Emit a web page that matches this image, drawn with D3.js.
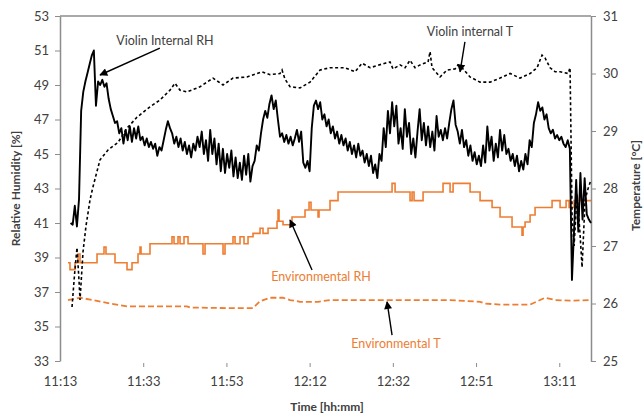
<!DOCTYPE html>
<html><head><meta charset="utf-8">
<script src="https://cdn.jsdelivr.net/npm/d3@7"></script>
<style>body{margin:0;background:#fff}svg{display:block}text{font-family:Lato,"Liberation Sans",Arial,sans-serif}</style>
</head><body><svg id="c" width="643" height="415"></svg>
<script>
// ---- data (time in minutes after 11:13) ----
const xTickLabels = ["11:13","11:33","11:53","12:12","12:32","12:51","13:11"];
const rhTicks = [33,35,37,39,41,43,45,47,49,51,53];
const tTicks = [25,26,27,28,29,30,31];

// Violin internal RH: sampled every 0.5 min starting at 2.5 min
const violinRHStart = 2.5, violinRHStep = 0.5;
const violinRH = [
41.0,40.9,42.0,40.8,42.4,47.5,48.6,49.2,49.7,50.2,50.7,51.0,47.8,49.2,49.0,49.3,48.9,49.1,48.2,47.6,
47.2,46.8,46.9,46.2,46.5,45.6,46.4,45.8,46.6,45.7,46.5,45.9,46.6,45.8,46.0,45.5,45.9,45.4,45.7,45.3,
45.6,44.9,45.4,45.2,45.8,46.4,46.9,46.5,46.2,45.6,46.0,45.4,45.9,45.2,45.7,45.0,45.5,44.8,45.6,45.2,
46.0,45.4,46.3,45.0,45.8,44.6,46.4,45.0,45.9,44.4,45.6,44.0,45.3,43.9,45.0,44.2,45.2,43.7,44.8,43.6,
44.5,43.5,44.9,43.8,45.0,43.4,44.3,44.6,45.5,45.2,46.2,47.0,47.5,47.1,47.9,48.4,47.6,48.1,47.0,46.0,
46.2,45.7,46.1,45.6,46.0,45.5,45.9,46.4,45.7,46.3,44.5,44.2,44.6,44.0,46.5,47.8,48.1,47.6,48.0,47.0,
47.3,46.6,47.0,46.2,46.6,45.9,46.3,45.6,46.1,45.5,45.9,45.2,45.7,45.0,45.5,44.8,45.6,44.9,45.2,44.5,
45.0,44.3,44.9,43.9,44.4,43.6,45.0,44.6,46.5,45.4,47.5,46.2,48.0,46.6,47.8,45.6,46.5,45.3,47.6,46.0,
46.8,45.0,45.9,44.8,46.3,47.6,45.8,46.8,45.5,46.6,45.4,46.3,45.2,47.2,46.0,46.4,45.8,46.5,45.9,46.8,
47.6,48.1,46.7,46.3,45.6,46.4,45.4,45.8,44.9,45.5,44.6,45.1,44.4,44.9,44.3,45.5,44.5,46.6,45.2,46.0,
44.6,45.6,44.8,46.4,45.2,46.1,45.0,45.3,44.6,45.0,44.3,44.9,44.0,44.6,44.1,45.0,44.4,45.8,45.4,46.8,
47.3,48.0,47.5,47.7,47.0,47.3,46.5,46.2,46.4,45.9,46.1,45.8,46.0,45.6,45.4,45.8,45.3,37.7,40.6,43.5,
40.5,43.9,41.2,43.6,41.5,41.2,41.0];

// Violin internal T (right axis)
const violinTTime = [2.84,3.43,4.02,4.49,4.73,5.44,6.15,7.09,7.80,9.46,11.35,13.71,15.84,18.20,21.27,23.64,26.00,27.18,28.37,30.02,
33.09,36.17,38.53,40.89,44.20,46.57,47.75,49.64,52.00,52.48,53.19,54.37,56.73,59.10,61.46,63.82,67.37,69.73,71.39,73.28,
76.82,78.00,78.71,80.37,81.55,82.73,83.91,85.10,86.99,87.46,87.93,89.83,91.48,93.37,94.08,95.02,96.91,99.28,101.64,104.01,
106.37,108.73,111.10,112.75,113.93,114.64,115.83,117.01,118.19,120.08,120.55,121.03,121.50,122.21,122.92,123.39,124.10,124.81,125.5];
const violinT = [25.94,26.5,26.97,26.4,26.06,26.9,27.35,27.8,28.03,28.5,28.67,28.8,29.05,29.24,29.42,29.54,29.71,29.83,29.71,29.68,
29.77,29.92,29.8,29.92,29.94,30.0,30.03,29.98,30.0,30.06,29.9,29.77,29.75,29.85,30.06,30.1,30.1,30.03,30.18,30.1,
30.18,30.2,30.08,30.15,30.1,30.23,30.1,30.15,30.2,30.38,30.1,29.94,30.06,30.08,30.15,30.1,29.94,29.85,29.85,29.92,
30.0,29.92,30.0,30.1,30.32,30.27,30.1,30.03,30.03,30.0,30.1,27.5,27.0,27.9,27.2,26.63,27.8,28.0,28.15];

// Environmental RH (left axis, stepped)
const envRHTime = [1.89,2.36,3.55,4.25,4.73,8.75,10.40,10.87,13.00,15.84,17.02,18.44,18.91,19.15,21.27,26.47,26.95,27.89,28.37,29.31,
30.26,33.80,34.28,38.53,39.00,40.89,41.37,42.55,43.49,44.44,45.62,47.28,47.98,49.17,51.29,51.53,51.77,52.71,54.84,57.91,
58.86,59.33,60.99,61.22,63.82,65.71,78.48,79.19,82.73,83.21,83.68,85.81,90.53,92.19,92.90,96.92,99.28,102.12,104.01,106.84,
109.20,109.44,109.92,111.10,112.28,116.30,118.19,119.61,120.32,121.50,122.92,123.16,125.5];
const envRH = [38.7,38.3,38.7,39.2,38.7,39.2,39.6,39.2,38.7,38.3,38.7,39.2,39.6,39.2,39.8,40.2,39.8,40.2,39.8,40.2,
39.8,39.2,39.8,39.2,39.8,40.2,39.8,40.2,39.8,40.2,40.4,40.7,40.4,40.7,41.1,41.75,41.1,40.9,41.35,41.75,
42.2,41.75,41.35,41.75,42.3,42.8,43.3,42.8,42.3,42.8,42.3,42.8,43.3,42.8,43.3,42.8,42.3,41.9,41.35,40.77,
40.3,40.77,41.06,41.46,41.9,42.3,41.9,42.3,41.9,42.3,42.7,42.3,42.3];

// Environmental T (right axis)
const envTTime = [1.89,4.73,7.80,11.82,15.84,30.02,30.73,39.48,45.62,47.28,49.64,52.71,54.37,56.73,60.99,63.82,92.19,99.28,100.46,104.01,
111.10,113.46,114.64,117.01,120.55,125.5];
const envT = [26.06,26.1,26.06,26.0,25.95,25.95,25.93,25.92,25.92,26.04,26.1,26.1,26.06,26.03,26.03,26.06,26.06,26.03,26.0,25.98,
25.98,26.06,26.1,26.06,26.05,26.06];

// annotations: label position and arrow (from, tip) in data coords
const annotations = [
  {text:"Violin Internal RH", axis:"L", lt:24.8, lv:51.6, ft:23.6, fv:51.14, tt:9.46, tv:49.58, color:"#404040"},
  {text:"Violin internal T", axis:"R", lt:96.9, lv:30.72, ft:95.7, fv:30.55, tt:94.55, tv:30.03, color:"#404040"},
  {text:"Environmental RH", axis:"L", lt:61.7, lv:37.87, ft:59.57, fv:38.28, tt:54.37, tv:41.17, color:"#ED7D31"},
  {text:"Environmental T", axis:"R", lt:79.4, lv:25.31, ft:78.48, fv:25.45, tt:77.3, tv:26.03, color:"#ED7D31"}
];

// ---- drawing ----
const svg = d3.select("#c");
const W=643,H=415;
svg.append("rect").attr("width",W).attr("height",H).attr("fill","#fff");
const x = d3.scaleLinear().domain([0,125.5]).range([60,591]);
const yL = d3.scaleLinear().domain([33,53]).range([361,16]);
const yR = d3.scaleLinear().domain([25,31]).range([361,16]);
const tickStep = 118/6;
const xTickVals = xTickLabels.map((d,i)=>i*tickStep);
const axisCol="#8c8c8c", textCol="#404040";

// top border
svg.append("line").attr("x1",x(0)).attr("x2",x(125.5)).attr("y1",yL(53)).attr("y2",yL(53))
  .attr("stroke",axisCol).attr("stroke-width",1.3);

const gL = svg.append("g").attr("transform",`translate(${x(0)},0)`)
  .call(d3.axisLeft(yL).tickValues(rhTicks).tickFormat(d3.format("d")).tickSize(5).tickSizeOuter(0).tickPadding(6));
const gR = svg.append("g").attr("transform",`translate(${x(125.5)},0)`)
  .call(d3.axisRight(yR).tickValues(tTicks).tickFormat(d3.format("d")).tickSize(5).tickSizeOuter(0).tickPadding(7));
const gB = svg.append("g").attr("transform",`translate(0,${yL(33)+2})`)
  .call(d3.axisBottom(x).tickValues(xTickVals).tickFormat((d,i)=>xTickLabels[i]).tickSize(4).tickSizeOuter(0).tickPadding(10));
gB.select(".domain").remove();
gB.selectAll(".tick").filter((d,i)=>i===0).select("line").remove();
[gL,gR,gB].forEach(g=>{
  g.selectAll(".domain").attr("stroke",axisCol).attr("stroke-width",1.5);
  g.selectAll(".tick line").attr("stroke",axisCol);
  g.selectAll("text").attr("fill",textCol).attr("font-size",13).attr("font-family","Lato, sans-serif");
});

// axis titles
svg.append("text").attr("transform",`translate(20,${(yL(33)+yL(53))/2}) rotate(-90)`)
  .attr("text-anchor","middle").attr("font-size",12).attr("font-weight","bold").attr("fill",textCol)
  .text("Relative Humidity [%]");
svg.append("text").attr("transform",`translate(640,${(yR(25)+yR(31))/2 - 3}) rotate(-90)`)
  .attr("text-anchor","middle").attr("font-size",12).attr("font-weight","bold").attr("fill",textCol)
  .text("Temperature [°C]");
svg.append("text").attr("x",327).attr("y",411).attr("text-anchor","middle")
  .attr("font-size",12).attr("font-weight","bold").attr("fill",textCol).text("Time [hh:mm]");

// series
const plot = svg.append("g");
const envTData = envTTime.map((t,i)=>[t,envT[i]]);
plot.append("path").datum(envTData)
  .attr("d",d3.line().x(d=>x(d[0])).y(d=>yR(d[1])))
  .attr("fill","none").attr("stroke","#ED7D31").attr("stroke-width",1.8).attr("stroke-dasharray","6,3");
const envRHData = envRHTime.map((t,i)=>[t,envRH[i]]);
plot.append("path").datum(envRHData)
  .attr("d",d3.line().curve(d3.curveStepAfter).x(d=>x(d[0])).y(d=>yL(d[1])))
  .attr("fill","none").attr("stroke","#ED7D31").attr("stroke-width",1.6);
const vTData = violinTTime.map((t,i)=>[t,violinT[i]]);
plot.append("path").datum(vTData)
  .attr("d",d3.line().x(d=>x(d[0])).y(d=>yR(d[1])))
  .attr("fill","none").attr("stroke","#000").attr("stroke-width",1.6).attr("stroke-dasharray","3,2.5");
const vRHData = violinRH.map((v,i)=>[violinRHStart+i*violinRHStep,v]);
plot.append("path").datum(vRHData)
  .attr("d",d3.line().x(d=>x(d[0])).y(d=>yL(d[1])))
  .attr("fill","none").attr("stroke","#000").attr("stroke-width",1.9).attr("stroke-linejoin","round");

// arrow marker
svg.append("defs").append("marker").attr("id","ah").attr("viewBox","0 0 10 10")
  .attr("refX",9).attr("refY",5).attr("markerWidth",9).attr("markerHeight",8)
  .attr("markerUnits","userSpaceOnUse").attr("orient","auto")
  .append("path").attr("d","M0,0 L10,5 L0,10 z").attr("fill","#000");

annotations.forEach(a=>{
  const y = a.axis==="L"?yL:yR;
  svg.append("line").attr("x1",x(a.ft)).attr("y1",y(a.fv)).attr("x2",x(a.tt)).attr("y2",y(a.tv))
    .attr("stroke","#000").attr("stroke-width",1.4).attr("marker-end","url(#ah)");
  svg.append("text").attr("x",x(a.lt)).attr("y",y(a.lv)).attr("dy","0.35em").attr("text-anchor","middle")
    .attr("font-size",12.5).attr("fill",a.color).text(a.text);
});
</script></body></html>
